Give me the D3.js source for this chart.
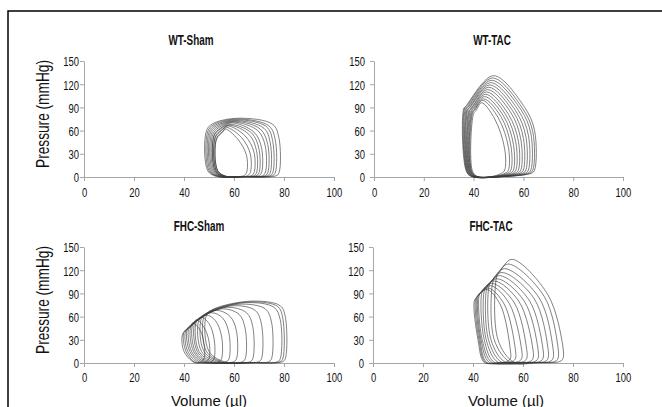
<!DOCTYPE html>
<html lang="en">
<head>
  <meta charset="UTF-8">
  <title>PV loops</title>
  <script src="https://d3js.org/d3.v7.min.js"></script>
  <style>
    html, body { margin: 0; padding: 0; background: #fff; overflow: hidden; }
    svg { display: block; font-family: "Liberation Sans", Arial, sans-serif; }
  </style>
</head>
<body>
<div id="chart"></div>
<script>
  // axis ticks
  const volTicks = [0, 20, 40, 60, 80, 100];
  const presTicks = [0, 30, 60, 90, 120, 150];
  const titles = ["WT-Sham", "WT-TAC", "FHC-Sham", "FHC-TAC"];

  // one row per loop, outer -> inner
  // [edv, pR, kneeV, kneeP, vPeak, pPeak, esv, esp, esvBottom, volAtZero]
  const wtShamLoops = [
    [78,   50, 75.5, 68, 62,   76, 49,   60, 49.5, 53],
    [76.5, 48, 74,   66, 61.5, 75, 49.5, 59, 50,   53.5],
    [75.5, 46, 73,   65, 61,   74, 50,   58, 50.5, 54],
    [74.5, 44, 72,   63, 60.5, 73, 50.5, 57, 51,   54.5],
    [73.5, 42, 70.5, 62, 60,   72, 51,   56, 51.5, 55],
    [72.5, 40, 69.5, 60, 59.5, 71, 51.5, 55, 52,   55.5],
    [71,   38, 68,   58, 59,   70, 52,   54, 52.5, 56],
    [70,   36, 67,   57, 58.5, 68, 52,   53, 52.5, 56],
    [69,   34, 66,   55, 58,   67, 52.5, 52, 53,   56.5],
    [68,   32, 64.5, 53, 57.5, 66, 52.5, 51, 53,   56.5],
    [66.5, 30, 63,   51, 57,   64, 53,   50, 53.5, 57],
    [65,   28, 61.5, 49, 56.5, 62, 53,   49, 53.5, 57]
  ];
  const wtTacLoops = [
    [64.5, 60, 60.5, 90, 48,   131, 36,   88, 37,   39],
    [63.8, 58, 59.8, 88, 47.6, 128, 36.3, 88, 37.2, 39.2],
    [63,   56, 59,   87, 47.2, 125, 36.6, 87, 37.4, 39.4],
    [62,   54, 58,   86, 46.8, 122, 37,   87, 37.6, 39.6],
    [61,   52, 57,   85, 46.4, 119, 37.3, 86, 37.8, 39.8],
    [60,   50, 56,   84, 46,   116, 37.6, 86, 38,   40],
    [59,   48, 55,   83, 45.6, 113, 38,   85, 38.2, 40.2],
    [58,   46, 54,   81, 45.2, 110, 38.3, 85, 38.4, 40.4],
    [57,   44, 53,   80, 44.8, 107, 38.6, 84, 38.6, 40.6],
    [56,   42, 52,   79, 44.4, 104, 39,   84, 38.8, 40.8],
    [55,   40, 51,   78, 44,   101, 39.3, 83, 39,   41],
    [54,   38, 50,   76, 43.6,  99, 39.6, 83, 39.2, 41.2],
    [52.5, 36, 48.5, 75, 43.2,  96, 40,   82, 39.5, 41.5]
  ];
  const fhcShamLoops = [
    [80.5, 60, 78.5, 74, 67,   80, 49,   62, 50,   57],
    [79.5, 58, 77.5, 73, 66,   79, 48,   60, 49,   56],
    [78.5, 56, 76,   72, 64.5, 78, 47,   58, 48,   55],
    [75,   53, 72.5, 70, 62,   76, 46,   56, 47,   53.5],
    [71,   50, 68.5, 68, 59.5, 74, 45,   54, 46,   52],
    [67.5, 47, 65,   65, 57,   72, 44.3, 52, 45.3, 50.5],
    [64.5, 44, 62,   63, 55,   70, 43.5, 50, 44.5, 49.5],
    [61,   41, 58.5, 60, 53,   68, 42.8, 48, 43.8, 48.5],
    [58,   38, 55.5, 58, 51,   65, 42,   46, 43,   47.5],
    [55,   35, 52.5, 55, 49,   62, 41.3, 44, 42.3, 46.5],
    [52,   32, 50,   51, 47,   59, 40.7, 42, 41.5, 45.5],
    [50,   28, 48,   46, 45,   56, 40,   40, 40.8, 44.5],
    [48,   25, 46.5, 42, 43.5, 52, 39.5, 38, 40,   44]
  ];
  const fhcTacLoops = [
    [76,   20, 70,   88, 55.5, 134, 49.5, 112, 50,   56.5],
    [74,   20, 68.5, 86, 54,   128, 48,   106, 48.5, 55],
    [72,   19, 66.5, 84, 52.5, 122, 46.5, 101, 47.2, 53],
    [70,   19, 64.5, 83, 51.5, 117, 45.5,  97, 46.2, 51.5],
    [68,   18, 62.5, 81, 50.5, 113, 44.5,  93, 45.3, 50],
    [66,   18, 60.5, 80, 49.5, 109, 43.5,  90, 44.5, 48.5],
    [64,   17, 58.5, 79, 48.5, 106, 42.5,  88, 43.7, 47.5],
    [61.5, 17, 56.5, 78, 47.5, 103, 42,    86, 43.2, 46.5],
    [59.5, 16, 54.5, 77, 47,   100, 41.5,  84, 42.8, 45.5],
    [57,   16, 52.5, 76, 46,    97, 41,    82, 42.4, 45],
    [55,   15, 51,   75, 45.5,  95, 40.5,  80, 42,   44.5]
  ];

  const width = 662, height = 407;
  const sx = 0.7; // tick labels in the source are condensed

  const svg = d3.select("#chart").append("svg")
    .attr("width", width).attr("height", height);

  svg.append("rect").attr("width", width).attr("height", height).attr("fill", "#fff");

  // frame (only top and left edges are visible)
  svg.append("path")
    .attr("d", `M8,${height} V11 H${width}`)
    .attr("fill", "none").attr("stroke", "#000").attr("stroke-width", 1.5);

  // layout of the four panels
  const panels = [
    {loops: wtShamLoops,  title: titles[0], x0: 84,  x1: 334, y0: 177, y1: 61,  tx: 191, ty: 45,  gap: 5, yTitle: true,  xTitle: 0,   edp: 1.5, hv: 2.5, hp: 9, pJ: 8},
    {loops: wtTacLoops,   title: titles[1], x0: 374, x1: 623, y0: 177, y1: 61,  tx: 492, ty: 45,  gap: 9, yTitle: false, xTitle: 0,   edp: 5,   hv: 1,   hp: 4, pJ: 8},
    {loops: fhcShamLoops, title: titles[2], x0: 84,  x1: 334, y0: 363, y1: 247, tx: 199, ty: 231, gap: 5, yTitle: true,  xTitle: 209, edp: 1.5, hv: 3,   hp: 8, pJ: 15},
    {loops: fhcTacLoops,  title: titles[3], x0: 373, x1: 623, y0: 363, y1: 247, tx: 491, ty: 231, gap: 9, yTitle: false, xTitle: 506, edp: 2,   hv: 1,   hp: 5, pJ: 30}
  ];

  panels.forEach(p => {
    const x = d3.scaleLinear().domain([0, 100]).range([p.x0, p.x1]);
    const y = d3.scaleLinear().domain([0, 150]).range([p.y0, p.y1]);

    // x axis
    const gx = svg.append("g")
      .attr("transform", `translate(0,${p.y0})`)
      .call(d3.axisBottom(x).tickValues(volTicks).tickSize(4).tickSizeOuter(0));
    gx.selectAll("text")
      .attr("y", 0).attr("dy", 0)
      .attr("transform", `translate(0,${p.y0 === 177 ? 20 : 19}) scale(${sx},1)`);

    // y axis
    const gy = svg.append("g")
      .attr("transform", `translate(${p.x0},0)`)
      .call(d3.axisLeft(y).tickValues(presTicks).tickSize(4).tickSizeOuter(0));
    gy.selectAll("text")
      .attr("x", 0).attr("dy", 0)
      .attr("transform", `translate(${-p.gap},4.8) scale(${sx},1)`);

    [gx, gy].forEach(g => {
      g.select(".domain").attr("stroke", "#a6a6a6");
      g.selectAll(".tick line").attr("stroke", "#a6a6a6");
      g.selectAll("text").attr("fill", "#111").style("font-size", "13.5px")
        .style("font-family", '"Liberation Sans", Arial, sans-serif');
    });

    // panel title
    svg.append("text")
      .attr("transform", `translate(${p.tx},${p.ty}) scale(0.66,1)`)
      .attr("text-anchor", "middle")
      .style("font-size", "15px").style("font-weight", "bold")
      .attr("fill", "#111")
      .text(p.title);

    if (p.yTitle) {
      svg.append("text")
        .attr("transform", `translate(49,${(p.y0 + p.y1) / 2 - 5}) rotate(-90) scale(0.72,1)`)
        .attr("text-anchor", "middle")
        .style("font-size", "19px")
        .attr("fill", "#111")
        .text("Pressure (mmHg)");
    }
    if (p.xTitle) {
      svg.append("text")
        .attr("x", p.xTitle).attr("y", 405.5)
        .attr("text-anchor", "middle")
        .style("font-size", "15px")
        .attr("fill", "#111")
        .text("Volume (µl)");
    }

    // loops
    const line = d3.line()
      .x(d => x(d[0])).y(d => y(d[1]))
      .curve(d3.curveCatmullRomClosed.alpha(0.5));

    const loopPoints = r => {
      const [edv, pR, kneeV, kneeP, vpk, pk, esv, esp, esvB, v0] = r;
      return [
        [v0, 0.8],
        [(v0 + edv) / 2, 0.5],
        [edv - 1.2, p.edp],
        [edv, p.edp + 4],
        [edv, pR],
        [kneeV, kneeP],
        [vpk, pk],
        [esv + p.hv, esp + p.hp],
        [esv, esp],
        [esvB, p.pJ]
      ];
    };

    svg.append("g")
      .selectAll("path")
      .data(p.loops)
      .enter().append("path")
      .attr("d", d => line(loopPoints(d)))
      .attr("fill", "none")
      .attr("stroke", "#3a3a3a")
      .attr("stroke-width", 0.75)
      .attr("stroke-opacity", 0.85);
  });
</script>
</body>
</html>
